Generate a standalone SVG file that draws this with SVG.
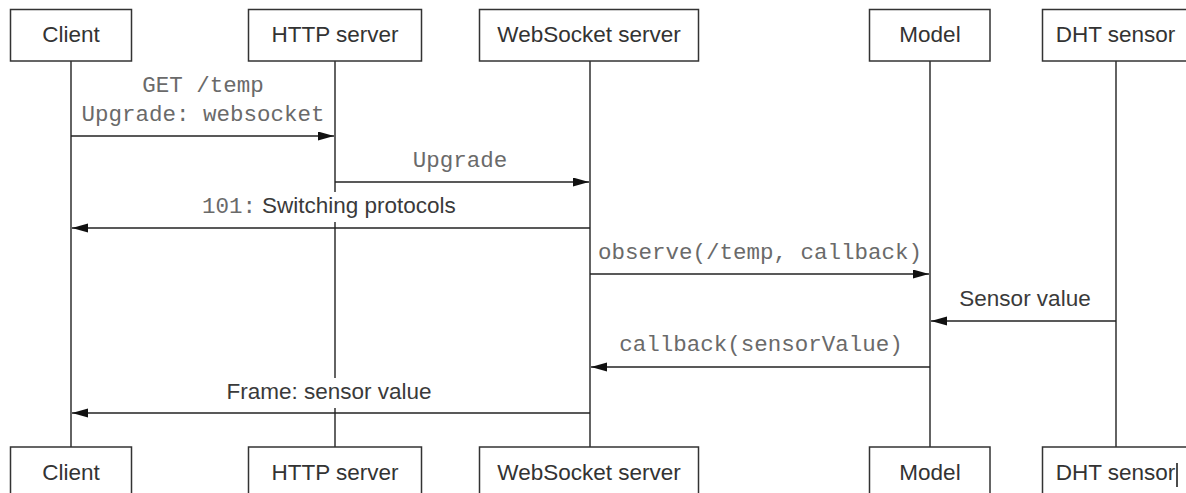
<svg xmlns="http://www.w3.org/2000/svg" width="1186" height="493" viewBox="0 0 1186 493">
  <style>
    .box { fill: #ffffff; stroke: #333333; stroke-width: 1.5; }
    .life { stroke: #222222; stroke-width: 1.4; fill: none; }
    .msg { stroke: #222222; stroke-width: 1.4; fill: none; marker-end: url(#head); }
    .name { font-family: "Liberation Sans", Arial, sans-serif; font-size: 22.5px; fill: #333333; text-anchor: middle; }
    .lbl { font-family: "Liberation Sans", Arial, sans-serif; font-size: 22.5px; fill: #3a3a3a; text-anchor: middle; }
    .code { font-family: "Liberation Mono", "Courier New", monospace; font-size: 22.5px; fill: #6a6a6a; text-anchor: middle; }
    .bg { fill: #ffffff; }
  </style>
  <defs>
    <marker id="head" markerUnits="userSpaceOnUse" markerWidth="17" markerHeight="10" refX="16" refY="4.5" orient="auto">
      <path d="M0,0 L16,4.5 L0,9 Z" fill="#111111"/>
    </marker>
  </defs>

  <rect x="0" y="0" width="1186" height="493" fill="#ffffff"/>

  <!-- lifelines -->
  <g id="lifelines">
    <line class="life" x1="71" y1="61" x2="71" y2="447"/>
    <line class="life" x1="335" y1="61" x2="335" y2="447"/>
    <line class="life" x1="590" y1="61" x2="590" y2="447"/>
    <line class="life" x1="930" y1="61" x2="930" y2="447"/>
    <line class="life" x1="1116" y1="61" x2="1116" y2="447"/>
  </g>

  <!-- participants, top row -->
  <g id="client-top">
    <rect class="box" x="10.5" y="9.5" width="121" height="51.5"/>
    <text class="name" x="71" y="42">Client</text>
  </g>
  <g id="http-top">
    <rect class="box" x="248.5" y="9.5" width="173" height="51.5"/>
    <text class="name" x="335" y="42">HTTP server</text>
  </g>
  <g id="ws-top">
    <rect class="box" x="479.5" y="9.5" width="219" height="51.5"/>
    <text class="name" x="589" y="42">WebSocket server</text>
  </g>
  <g id="model-top">
    <rect class="box" x="869.5" y="9.5" width="120.5" height="51.5"/>
    <text class="name" x="930" y="42">Model</text>
  </g>
  <g id="dht-top">
    <rect class="box" x="1042.5" y="9.5" width="150" height="51.5"/>
    <text class="name" x="1115.5" y="42">DHT sensor</text>
  </g>

  <!-- participants, bottom row -->
  <g id="client-bottom">
    <rect class="box" x="10.5" y="447" width="121" height="52"/>
    <text class="name" x="71" y="480">Client</text>
  </g>
  <g id="http-bottom">
    <rect class="box" x="248.5" y="447" width="173" height="52"/>
    <text class="name" x="335" y="480">HTTP server</text>
  </g>
  <g id="ws-bottom">
    <rect class="box" x="479.5" y="447" width="219" height="52"/>
    <text class="name" x="589" y="480">WebSocket server</text>
  </g>
  <g id="model-bottom">
    <rect class="box" x="869.5" y="447" width="120.5" height="52"/>
    <text class="name" x="930" y="480">Model</text>
  </g>
  <g id="dht-bottom">
    <rect class="box" x="1042.5" y="447" width="150" height="52"/>
    <text class="name" x="1115.5" y="480">DHT sensor</text>
    <line x1="1177" y1="463" x2="1177" y2="487" stroke="#111111" stroke-width="1.5"/>
  </g>

  <!-- messages -->
  <g id="connectors">
    <!-- Client to HTTP server -->
    <text class="code" x="203" y="92">GET /temp</text>
    <text class="code" x="203" y="121">Upgrade: websocket</text>
    <line class="msg" x1="71" y1="136" x2="334" y2="136"/>

    <!-- HTTP server to WebSocket server -->
    <text class="code" x="460" y="167">Upgrade</text>
    <line class="msg" x1="335" y1="182" x2="589" y2="182"/>

    <!-- WebSocket server back to Client -->
    <rect class="bg" x="199" y="192" width="260" height="30"/>
    <text y="213"><tspan class="code" style="text-anchor:start" x="202">101:</tspan><tspan class="lbl" style="text-anchor:start" x="262">Switching protocols</tspan></text>
    <line class="msg" x1="590" y1="228" x2="72" y2="228"/>

    <!-- WebSocket server to Model -->
    <text class="code" x="760" y="259">observe(/temp, callback)</text>
    <line class="msg" x1="590" y1="274" x2="929" y2="274"/>

    <!-- DHT sensor to Model -->
    <text class="lbl" x="1025" y="306">Sensor value</text>
    <line class="msg" x1="1116" y1="321" x2="931" y2="321"/>

    <!-- Model to WebSocket server -->
    <text class="code" x="761" y="351">callback(sensorValue)</text>
    <line class="msg" x1="930" y1="367" x2="591" y2="367"/>

    <!-- WebSocket server to Client -->
    <rect class="bg" x="221" y="378" width="216" height="30"/>
    <text class="lbl" x="329" y="399">Frame: sensor value</text>
    <line class="msg" x1="590" y1="413" x2="72" y2="413"/>
  </g>
</svg>
